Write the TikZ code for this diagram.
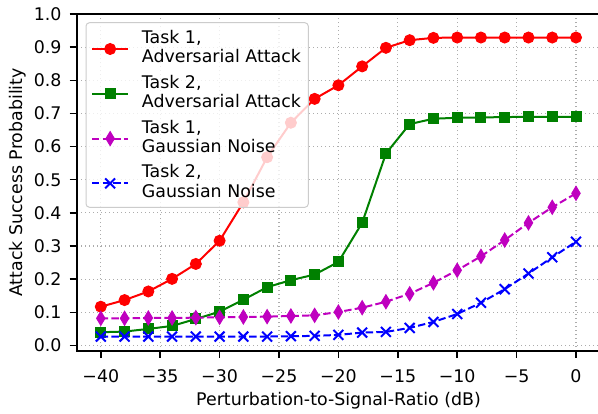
\documentclass[tikz,border=0pt]{standalone}
\usepackage{fontspec}
\setmainfont{DejaVu Sans}
\usetikzlibrary{plotmarks}
\pgfdeclareplotmark{thindiam}{%
  \pgfpathmoveto{\pgfqpoint{0pt}{\pgfplotmarksize}}%
  \pgfpathlineto{\pgfqpoint{0.6\pgfplotmarksize}{0pt}}%
  \pgfpathlineto{\pgfqpoint{0pt}{-\pgfplotmarksize}}%
  \pgfpathlineto{\pgfqpoint{-0.6\pgfplotmarksize}{0pt}}%
  \pgfpathclose
  \pgfusepathqfillstroke}
\definecolor{mplred}{RGB}{255,0,0}
\definecolor{mplgreen}{RGB}{0,128,0}
\definecolor{mplmag}{RGB}{191,0,191}
\definecolor{mplblue}{RGB}{0,0,255}
\begin{document}
\begin{tikzpicture}[x=1pt,y=-1pt,
  txt/.style={font=\fontsize{17.4}{20}\selectfont, inner sep=0pt, text=black},
  gridline/.style={draw=gray!65, line width=1.2pt, dash pattern=on 1.3pt off 2.7pt},
  spine/.style={draw=black, line width=1.8pt},
  tickmark/.style={draw=black, line width=1.5pt},
  redline/.style={draw=mplred, line width=2pt, mark=*, mark size=5.5pt, mark options={solid, fill=mplred, line width=1pt}},
  greenline/.style={draw=mplgreen, line width=2pt, mark=square*, mark size=5pt, mark options={solid, fill=mplgreen, line width=1pt}},
  magline/.style={draw=mplmag, line width=2pt, dash pattern=on 7.4pt off 3.2pt, mark=thindiam, mark size=7pt, mark options={solid, fill=mplmag, line width=1pt}},
  blueline/.style={draw=mplblue, line width=2pt, dash pattern=on 7.4pt off 3.2pt, mark=x, mark size=7pt, mark options={solid, line width=2pt}},
  legendbox/.style={draw=gray!40, line width=1pt, fill=white, fill opacity=0.8, rounded corners=3.5pt}
]
\useasboundingbox (0,0) rectangle (598,414);
\begin{scope}[shift={(576,345.5)}, x=11.88pt, y=331.5pt]
  % grid
  \foreach \d in {-40,-35,...,0} \draw[gridline] (\d,-0.0166) -- (\d,1);
  \foreach \p in {0,0.1,...,1.01} \draw[gridline] (-42,\p) -- (2,\p);
  % data
  \draw[redline] plot coordinates {(-40,.117) (-38,.137) (-36,.163) (-34,.201) (-32,.246) (-30,.316) (-28,.432) (-26,.568) (-24,.672) (-22,.744) (-20,.785) (-18,.842) (-16,.898) (-14,.921) (-12,.928) (-10,.929) (-8,.929) (-6,.929) (-4,.929) (-2,.929) (0,.929)};
  \draw[greenline] plot coordinates {(-40,.040) (-38,.042) (-36,.050) (-34,.059) (-32,.080) (-30,.102) (-28,.138) (-26,.176) (-24,.197) (-22,.214) (-20,.252) (-18,.370) (-16,.579) (-14,.668) (-12,.684) (-10,.687) (-8,.688) (-6,.689) (-4,.690) (-2,.690) (0,.690)};
  \draw[magline] plot coordinates {(-40,.082) (-38,.082) (-36,.083) (-34,.083) (-32,.084) (-30,.085) (-28,.086) (-26,.087) (-24,.089) (-22,.091) (-20,.101) (-18,.114) (-16,.132) (-14,.156) (-12,.189) (-10,.227) (-8,.269) (-6,.318) (-4,.370) (-2,.417) (0,.459)};
  \draw[blueline] plot coordinates {(-40,.027) (-38,.027) (-36,.027) (-34,.027) (-32,.027) (-30,.027) (-28,.027) (-26,.027) (-24,.028) (-22,.029) (-20,.032) (-18,.039) (-16,.041) (-14,.053) (-12,.071) (-10,.095) (-8,.129) (-6,.170) (-4,.217) (-2,.266) (0,.313)};
  % spines
  \draw[spine] (-42,1) -- (-42,-0.0166) -- (2,-0.0166);
  \draw[spine] (-42,1) -- (2,1);
\end{scope}
% y ticks and labels
\foreach \k/\t in {0/0.0,1/0.1,2/0.2,3/0.3,4/0.4,5/0.5,6/0.6,7/0.7,8/0.8,9/0.9,10/1.0} {
  \pgfmathsetmacro{\yy}{345.5-\k*33.15}
  \draw[tickmark] (69.5,\yy) -- (77,\yy);
  \node[txt, anchor=east] (yl\k) at (61.7,\yy) {\t};
}
% x ticks and labels
\foreach \d/\t in {-40/−40,-35/−35,-30/−30,-25/−25,-20/−20,-15/−15,-10/−10,-5/−5,0/0} {
  \pgfmathsetmacro{\xx}{576+\d*11.88}
  \draw[tickmark] (\xx,351) -- (\xx,358.5);
  \node[txt, anchor=north] (xl\d) at (\xx,369.3) {\t};
}
\node[txt, anchor=base] (xlabel) at (338.5,406) {Perturbation-to-Signal-Ratio (dB)};
\node[txt, anchor=base, rotate=90] (ylabel) at (23,182.5) {Attack Success Probability};
% legend
\draw[legendbox] (86,22.7) rectangle (308.3,207.3);
\draw[redline, mark=none] (92,49) -- (128.3,49);
\path[redline] plot coordinates {(110.15,49)};
\draw[greenline, mark=none] (92,93.8) -- (128.3,93.8);
\path[greenline] plot coordinates {(110.15,93.8)};
\draw[magline, mark=none] (92,138.6) -- (128.3,138.6);
\path[magline] plot coordinates {(110.15,138.6)};
\draw[blueline, mark=none] (92,183.4) -- (128.3,183.4);
\path[blueline] plot coordinates {(110.15,183.4)};
\node[txt, anchor=base west] (l1a) at (141.7,43.3) {Task 1,};
\node[txt, anchor=base west] (l1b) at (141.7,62.9) {Adversarial Attack};
\node[txt, anchor=base west] (l2a) at (141.7,88.3) {Task 2,};
\node[txt, anchor=base west] (l2b) at (141.7,107.9) {Adversarial Attack};
\node[txt, anchor=base west] (l3a) at (141.7,133.1) {Task 1,};
\node[txt, anchor=base west] (l3b) at (141.7,152.7) {Gaussian Noise};
\node[txt, anchor=base west] (l4a) at (141.7,178.0) {Task 2,};
\node[txt, anchor=base west] (l4b) at (141.7,197.6) {Gaussian Noise};
\end{tikzpicture}
\end{document}
